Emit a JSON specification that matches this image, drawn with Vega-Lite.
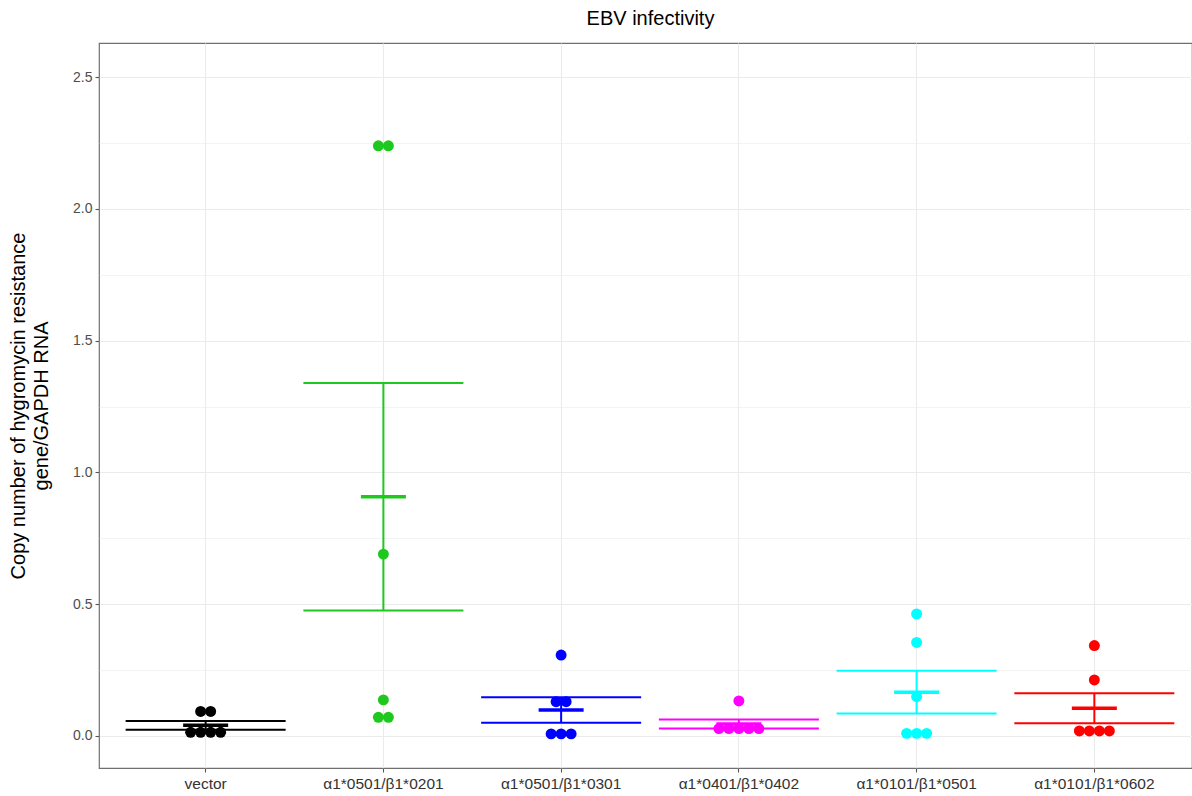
{
  "$schema": "https://vega.github.io/schema/vega-lite/v6.json",
  "width": 1093,
  "height": 725,
  "autosize": {"type": "none"},
  "padding": {"left": 99, "top": 43, "right": 0, "bottom": 28},
  "background": "white",
  "title": {"text": "EBV infectivity", "fontSize": 20, "font": "Liberation Sans", "fontWeight": "normal", "color": "#000000", "anchor": "middle", "frame": "group", "offset": 14, "dx": 5},
  "config": {
    "view": {"stroke": "#707070", "strokeWidth": 1.2},
    "axis": {"labelFont": "Liberation Sans", "labelFontSize": 14, "labelColor": "#4d4d4d", "tickColor": "#555555", "tickSize": 4, "tickWidth": 1.1, "domain": false, "gridColor": "#ebebeb", "gridWidth": 1.1, "titleFont": "Liberation Sans", "titleFontWeight": "normal", "titleColor": "#000000"}
  },
  "data": {"values": [
    {"group": "vector", "value": 0.093},
    {"group": "vector", "value": 0.093},
    {"group": "vector", "value": 0.014},
    {"group": "vector", "value": 0.014},
    {"group": "vector", "value": 0.014},
    {"group": "vector", "value": 0.014},
    {"group": "α1*0501/β1*0201", "value": 2.239},
    {"group": "α1*0501/β1*0201", "value": 2.239},
    {"group": "α1*0501/β1*0201", "value": 0.69},
    {"group": "α1*0501/β1*0201", "value": 0.137},
    {"group": "α1*0501/β1*0201", "value": 0.071},
    {"group": "α1*0501/β1*0201", "value": 0.071},
    {"group": "α1*0501/β1*0301", "value": 0.307},
    {"group": "α1*0501/β1*0301", "value": 0.13},
    {"group": "α1*0501/β1*0301", "value": 0.13},
    {"group": "α1*0501/β1*0301", "value": 0.008},
    {"group": "α1*0501/β1*0301", "value": 0.008},
    {"group": "α1*0501/β1*0301", "value": 0.008},
    {"group": "α1*0401/β1*0402", "value": 0.133},
    {"group": "α1*0401/β1*0402", "value": 0.028},
    {"group": "α1*0401/β1*0402", "value": 0.028},
    {"group": "α1*0401/β1*0402", "value": 0.028},
    {"group": "α1*0401/β1*0402", "value": 0.028},
    {"group": "α1*0401/β1*0402", "value": 0.028},
    {"group": "α1*0101/β1*0501", "value": 0.463},
    {"group": "α1*0101/β1*0501", "value": 0.355},
    {"group": "α1*0101/β1*0501", "value": 0.149},
    {"group": "α1*0101/β1*0501", "value": 0.01},
    {"group": "α1*0101/β1*0501", "value": 0.01},
    {"group": "α1*0101/β1*0501", "value": 0.01},
    {"group": "α1*0101/β1*0602", "value": 0.343},
    {"group": "α1*0101/β1*0602", "value": 0.2125},
    {"group": "α1*0101/β1*0602", "value": 0.019},
    {"group": "α1*0101/β1*0602", "value": 0.019},
    {"group": "α1*0101/β1*0602", "value": 0.019},
    {"group": "α1*0101/β1*0602", "value": 0.019}
  ]},
  "encoding": {
    "x": {"field": "group", "type": "nominal",
      "sort": ["vector", "α1*0501/β1*0201", "α1*0501/β1*0301", "α1*0401/β1*0402", "α1*0101/β1*0501", "α1*0101/β1*0602"],
      "scale": {"type": "band", "paddingInner": 0, "paddingOuter": 0.1, "range": [0, 1102]},
      "axis": {"title": null, "labelAngle": 0, "grid": true, "labelPadding": 4, "labelFontSize": 15.5, "labelColor": "#333333"}},
    "y": {"field": "value", "type": "quantitative",
      "scale": {"domain": [-0.1214, 2.629], "nice": false, "zero": false},
      "axis": {
        "title": ["Copy number of hygromycin resistance", "gene/GAPDH RNA"],
        "titleFontSize": 20, "titleLineHeight": 23, "titlePadding": 21,
        "values": [0, 0.25, 0.5, 0.75, 1, 1.25, 1.5, 1.75, 2, 2.25, 2.5],
        "labelExpr": "(datum.value * 4) % 2 == 1 ? '' : format(datum.value, '.1f')",
        "gridWidth": {"condition": {"test": "(datum.value * 4) % 2 == 1", "value": 0.6}, "value": 1.1},
        "tickOpacity": {"condition": {"test": "(datum.value * 4) % 2 == 1", "value": 0}, "value": 1},
        "labelPadding": 3
      }},
    "color": {"field": "group", "type": "nominal", "legend": null,
      "scale": {"domain": ["vector", "α1*0501/β1*0201", "α1*0501/β1*0301", "α1*0401/β1*0402", "α1*0101/β1*0501", "α1*0101/β1*0602"],
                "range": ["#000000", "#1fc81f", "#0000ff", "#ff00ff", "#00ffff", "#ff0000"]}}
  },
  "layer": [
    {"mark": {"type": "errorbar", "extent": "stderr", "ticks": {"opacity": 1}, "rule": {"opacity": 1}, "size": 160, "thickness": 2}},
    {"mark": {"type": "tick", "size": 45, "thickness": 3.5, "opacity": 1},
     "encoding": {"y": {"aggregate": "mean", "field": "value", "type": "quantitative"}}},
    {"transform": [
       {"window": [{"op": "row_number", "as": "rank"}, {"op": "count", "as": "n"}], "groupby": ["group", "value"], "frame": [null, null]},
       {"calculate": "datum.rank - (datum.n + 1) / 2", "as": "slot"}
     ],
     "mark": {"type": "circle", "size": 120, "opacity": 1},
     "encoding": {"xOffset": {"field": "slot", "type": "quantitative", "scale": {"domain": [-8.887, 8.887], "range": [0, 177.74], "nice": false, "zero": false}}}}
  ]
}
